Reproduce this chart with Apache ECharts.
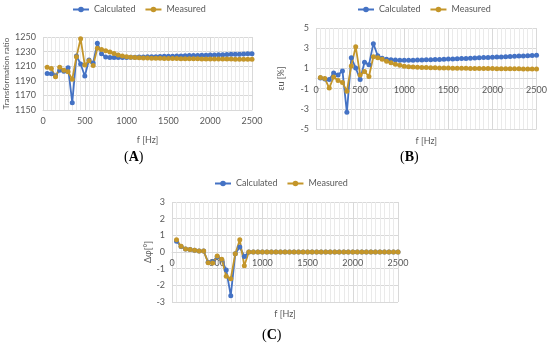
<!DOCTYPE html>
<html>
<head>
<meta charset="utf-8">
<script src="https://cdn.jsdelivr.net/npm/echarts@6/dist/echarts.min.js"></script>
<style>html,body{margin:0;padding:0;background:#fff}#c{width:550px;height:348px}</style>
</head>
<body>
<div id="c"></div>
<script>
var freq = [50,100,150,200,250,300,350,400,450,500,550,600,650,700,750,800,850,900,950,1000,
  1050,1100,1150,1200,1250,1300,1350,1400,1450,1500,1550,1600,1650,1700,1750,1800,1850,1900,1950,2000,
  2050,2100,2150,2200,2250,2300,2350,2400,2450,2500];

var ratioCalc = [1200,1199.5,1197,1204.5,1203,1208,1160,1224,1213,1196.5,1218.5,1214.5,1241.5,1227,1222.5,1222,1221.8,1221.8,1221.9,1222,
  1222.2,1222.3,1222.5,1222.6,1222.8,1223,1223.1,1223.3,1223.5,1223.7,1223.8,1224,1224.1,1224.3,1224.5,1224.6,1224.8,1225,1225.1,1225.3,
  1225.5,1225.6,1225.8,1226,1226.2,1226.3,1226.5,1226.7,1226.9,1227];
var ratioMeas = [1208.5,1207,1195.5,1208.5,1204.5,1202.5,1192,1223,1247.5,1211.5,1217.5,1211,1234.5,1233,1231,1229.5,1227.5,1225.5,1224,1223,
  1222.3,1221.8,1221.5,1221.3,1221.1,1221,1220.9,1220.8,1220.7,1220.6,1220.5,1220.4,1220.3,1220.3,1220.2,1220.1,1220.1,1220,1220,1219.9,
  1219.9,1219.8,1219.8,1219.7,1219.7,1219.6,1219.6,1219.5,1219.5,1219.5];

var euCalc = [0.05,-0.05,-0.1,0.55,0.35,0.75,-3.35,2.05,1.05,-0.1,1.6,1.35,3.45,2.25,2.0,1.9,1.85,1.82,1.8,1.8,
  1.8,1.81,1.82,1.83,1.85,1.86,1.88,1.89,1.91,1.92,1.94,1.96,1.97,1.99,2.01,2.03,2.05,2.07,2.09,2.1,
  2.12,2.14,2.16,2.18,2.2,2.22,2.24,2.26,2.28,2.3];
var euMeas = [0.1,0.0,-0.95,0.15,-0.2,-0.4,-1.25,1.25,3.15,0.35,0.7,0.2,2.15,2.05,1.9,1.7,1.55,1.4,1.3,1.22,
  1.17,1.14,1.12,1.1,1.08,1.07,1.06,1.05,1.04,1.03,1.02,1.02,1.01,1.01,1.0,1.0,0.99,0.99,0.98,0.98,
  0.97,0.97,0.97,0.96,0.96,0.96,0.95,0.95,0.95,0.95];

var phiCalc = [0.65,0.33,0.18,0.15,0.1,0.06,0.06,-0.62,-0.58,-0.28,-0.46,-1.08,-2.62,-0.1,0.3,-0.27,0,0,0,0,
  0,0,0,0,0,0,0,0,0,0,0,0,0,0,0,0,0,0,0,0,
  0,0,0,0,0,0,0,0,0,0];
var phiMeas = [0.73,0.35,0.18,0.15,0.1,0.06,0.06,-0.64,-0.66,-0.24,-0.44,-1.45,-1.6,-0.1,0.73,-0.83,0,0,0,0,
  0,0,0,0,0,0,0,0,0,0,0,0,0,0,0,0,0,0,0,0,
  0,0,0,0,0,0,0,0,0,0];

var xTicks = [0,500,1000,1500,2000,2500];
var seriesNames = ['Calculated','Measured'];
var panelLabels = ['A','B','C'];

var BLUE = '#4472C4', GOLD = '#C4962A';
var FONT = 'Lato';
var TXT = '#595959';

function pairs(vals){ return freq.map(function(f,i){ return [f, vals[i]]; }); }
function plain(v){ return String(v); }

function xAx(gi, nameGap, offset){
  return {
    type:'value', gridIndex:gi, min:xTicks[0], max:xTicks[xTicks.length-1], interval:500,
    offset:offset,
    name:'f [Hz]', nameLocation:'middle', nameGap:nameGap,
    nameTextStyle:{color:TXT, fontSize:9, fontFamily:FONT},
    axisLine:{show:true, onZero:false, lineStyle:{color:'#D9D9D9', width:1}},
    axisTick:{show:false},
    axisLabel:{color:TXT, fontSize:9, fontFamily:FONT, margin:7, formatter:plain},
    splitLine:{show:true, lineStyle:{color:'#D9D9D9', width:1}},
    minorTick:{show:false, splitNumber:10},
    minorSplitLine:{show:true, lineStyle:{color:'#EAEAEA', width:1}}
  };
}
function yAx(gi, min, max, interval, name, nameGap, nameSize){
  return {
    type:'value', gridIndex:gi, min:min, max:max, interval:interval,
    name:name, nameLocation:'middle', nameGap:nameGap,
    nameTextStyle:{color:TXT, fontSize:nameSize, fontFamily:FONT},
    axisLine:{show:false, onZero:false}, axisTick:{show:false},
    axisLabel:{color:TXT, fontSize:9, fontFamily:FONT, margin:7, formatter:plain},
    splitLine:{show:true, lineStyle:{color:'#D9D9D9', width:1}}
  };
}
function ser(name, gi, vals, color){
  return {
    name:name, type:'line', xAxisIndex:gi, yAxisIndex:gi, data:pairs(vals),
    symbol:'circle', symbolSize:5, showSymbol:true,
    lineStyle:{color:color, width:1.8}, itemStyle:{color:color},
    animation:false
  };
}
function leg(left, top){
  return {
    data:seriesNames, left:left, top:top, itemWidth:16, itemHeight:7, itemGap:9,
    textStyle:{color:TXT, fontSize:9, fontFamily:FONT}, padding:0
  };
}
function panelText(letter, x, y){
  return {
    type:'text', left:x, top:y,
    style:{
      text:'{p|(}{b|' + letter + '}{p|)}',
      rich:{
        p:{fontFamily:'Liberation Serif', fontSize:14, fill:'#000'},
        b:{fontFamily:'Liberation Serif', fontSize:14, fontWeight:'bold', fill:'#000'}
      }
    }
  };
}

var chart = echarts.init(document.getElementById('c'));
chart.setOption({
  animation:false,
  backgroundColor:'#fff',
  grid:[
    {left:43, right:298, top:37, bottom:238},
    {left:316, right:12, top:28, bottom:219},
    {left:172, right:152, top:202, bottom:46}
  ],
  xAxis:[ xAx(0, 26, 0), xAx(1, 58, -50.5), xAx(2, 58, -50) ],
  yAxis:[
    yAx(0, 1150, 1250, 20, 'Transformation ratio', 33, 8),
    yAx(1, -5, 5, 2, 'εu [%]', 30, 9),
    yAx(2, -3, 3, 1, 'Δφ[°]', 18, 9)
  ],
  legend:[ leg(72, 5), leg(357, 5), leg(214, 179) ],
  series:[
    ser(seriesNames[0], 0, ratioCalc, BLUE),
    ser(seriesNames[1], 0, ratioMeas, GOLD),
    ser(seriesNames[0], 1, euCalc, BLUE),
    ser(seriesNames[1], 1, euMeas, GOLD),
    ser(seriesNames[0], 2, phiCalc, BLUE),
    ser(seriesNames[1], 2, phiMeas, GOLD)
  ],
  graphic:[
    panelText(panelLabels[0], 124, 150),
    panelText(panelLabels[1], 400, 150),
    panelText(panelLabels[2], 262, 328)
  ]
});
</script>
</body>
</html>
